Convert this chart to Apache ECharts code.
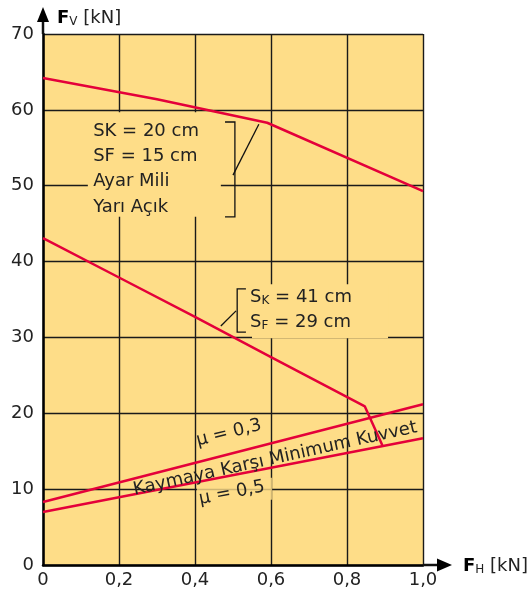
<!DOCTYPE html>
<html>
<head>
<meta charset="utf-8">
<title>FV - FH</title>
<script src="https://cdn.jsdelivr.net/npm/echarts@6/dist/echarts.min.js"></script>
<style>
  html, body { margin: 0; padding: 0; background: #fff; }
  #chart { width: 528px; height: 595px; }
</style>
</head>
<body>
<div id="chart"></div>
<script>
// tick values
const xTicks = [0, 0.2, 0.4, 0.6, 0.8, 1.0];
const yTicks = [0, 10, 20, 30, 40, 50, 60, 70];

// SK = 20 cm / SF = 15 cm curve
const sk20X = [0, 0.3, 0.59, 1.0];
const sk20Y = [64.2, 61.4, 58.3, 49.3];

// SK = 41 cm / SF = 29 cm curve
const sk41X = [0, 0.2, 0.4, 0.6, 0.847, 0.893];
const sk41Y = [43.1, 37.9, 32.7, 27.4, 20.9, 15.8];

// minimum force against sliding
const mu03X = [0, 1.0];
const mu03Y = [8.3, 21.2];
const mu05X = [0, 1.0];
const mu05Y = [7.0, 16.7];

const font = '"DejaVu Sans", "Liberation Sans", sans-serif';
const ink = '#222';
const red = '#E4003A';
const paper = '#FEDD88';

const pairs = (xs, ys) => xs.map((x, i) => [x, ys[i]]);

const chart = echarts.init(document.getElementById('chart'));

const lineSeries = (data) => ({
  type: 'line',
  data: data,
  symbol: 'none',
  silent: true,
  z: 3,
  lineStyle: { color: red, width: 2.5 },
});

chart.setOption({
  animation: false,
  grid: {
    left: 43, right: 105, top: 34, bottom: 30,
    show: true,
    backgroundColor: paper,
    borderWidth: 0,
  },
  xAxis: {
    type: 'value',
    min: 0, max: 1, interval: 0.2,
    axisLine: { lineStyle: { color: '#000', width: 2.5 } },
    axisTick: { show: false },
    splitLine: { show: true, lineStyle: { color: '#1a1a1a', width: 1.4 } },
    axisLabel: {
      fontSize: 18, color: ink, fontFamily: font, margin: 6,
      formatter: v => v === 0 ? '0' : v.toFixed(1).replace('.', ','),
    },
  },
  yAxis: {
    type: 'value',
    min: 0, max: 70, interval: 10,
    axisLine: { show: true, lineStyle: { color: '#000', width: 2.5 } },
    axisTick: { show: false },
    splitLine: { show: true, lineStyle: { color: '#1a1a1a', width: 1.4 } },
    axisLabel: { fontSize: 18, color: ink, fontFamily: font, margin: 9 },
  },
  series: [
    lineSeries(pairs(sk20X, sk20Y)),
    lineSeries(pairs(sk41X, sk41Y)),
    lineSeries(pairs(mu03X, mu03Y)),
    lineSeries(pairs(mu05X, mu05Y)),
  ],
});

// annotations, placed in data coordinates
const P = (x, y) => chart.convertToPixel({ gridIndex: 0 }, [x, y]);

const box = (x0, y0, x1, y1, opacity) => {
  const a = P(x0, y0), b = P(x1, y1);
  return {
    type: 'rect', z: 1, silent: true,
    shape: { x: a[0], y: a[1], width: b[0] - a[0], height: b[1] - a[1] },
    style: { fill: paper, opacity: opacity == null ? 1 : opacity },
  };
};

const seg = (pts, w) => ({
  type: 'polyline', z: 6, silent: true,
  shape: { points: pts },
  style: { stroke: '#111', lineWidth: w || 1.3, fill: null },
});

const label = (x, y, text) => {
  const p = P(x, y);
  return {
    type: 'text', z: 7, silent: true,
    x: p[0], y: p[1],
    style: {
      text: text, fill: ink, font: '18px ' + font,
      textAlign: 'left', textVerticalAlign: 'middle',
    },
  };
};

const rot = (x, y, text, deg) => {
  const p = P(x, y);
  return {
    type: 'text', z: 7, silent: true,
    x: p[0], y: p[1], rotation: deg * Math.PI / 180,
    style: {
      text: text, fill: ink, font: '18px ' + font,
      textAlign: 'center', textVerticalAlign: 'middle',
    },
  };
};

const subRich = {
  b: { fontSize: 18, fontWeight: 'bold', fontFamily: font, fill: '#000', lineHeight: 22 },
  m: { fontSize: 18, fontFamily: font, fill: ink, lineHeight: 22 },
  s: { fontSize: 12, fontFamily: font, fill: ink, lineHeight: 22, padding: [8, 0, 0, 0] },
};

const subText = (px, py, text) => ({
  type: 'text', z: 7, silent: true,
  x: px, y: py,
  style: { text: text, textAlign: 'left', textVerticalAlign: 'middle', rich: subRich },
});

const origin = P(0, 0), yEnd = P(0, 70), xEnd = P(1, 0);
const b1x = P(0.505, 0)[0], b1t = P(0.479, 0)[0];
const b1a = P(0, 58.4)[1], b1b = P(0, 45.9)[1];
const b2x = P(0.511, 0)[0], b2t = P(0.534, 0)[0];
const b2a = P(0, 36.4)[1], b2b = P(0, 30.7)[1];
const t1 = P(0.545, 35.3), t2 = P(0.545, 32.0);

chart.setOption({
  graphic: [
    // axis arrows
    seg([[yEnd[0], yEnd[1]], [yEnd[0], yEnd[1] - 14]], 2.5),
    { type: 'polygon', z: 6, silent: true,
      shape: { points: [[yEnd[0] - 6, yEnd[1] - 12], [yEnd[0] + 6, yEnd[1] - 12], [yEnd[0], yEnd[1] - 27]] },
      style: { fill: '#000' } },
    seg([[xEnd[0], xEnd[1]], [xEnd[0] + 16, xEnd[1]]], 2.5),
    { type: 'polygon', z: 6, silent: true,
      shape: { points: [[xEnd[0] + 14, xEnd[1] - 6.5], [xEnd[0] + 14, xEnd[1] + 6.5], [xEnd[0] + 29, xEnd[1]]] },
      style: { fill: '#000' } },
    // axis names
    subText(yEnd[0] + 14, yEnd[1] - 16, '{b|F}{s|V}{m| [kN]}'),
    subText(xEnd[0] + 40, xEnd[1] + 1, '{b|F}{s|H}{m| [kN]}'),

    // SK = 20 cm block
    box(0.118, 59.7, 0.468, 45.9),
    label(0.132, 57.2, 'SK = 20 cm'),
    label(0.132, 53.9, 'SF = 15 cm'),
    label(0.132, 50.6, 'Ayar Mili'),
    label(0.132, 47.2, 'Yarı Açık'),
    seg([[b1t, b1a], [b1x, b1a], [b1x, b1b], [b1t, b1b]]),
    seg([P(0.5, 51.4), P(0.568, 58.1)]),

    // SK = 41 cm block
    box(0.55, 37.0, 0.908, 29.9),
    subText(t1[0], t1[1], '{m|S}{s|K}{m| = 41 cm}'),
    subText(t2[0], t2[1], '{m|S}{s|F}{m| = 29 cm}'),
    seg([[b2t, b2a], [b2x, b2a], [b2x, b2b], [b2t, b2b]]),
    seg([P(0.508, 33.5), P(0.468, 31.5)]),

    // friction labels
    box(0.405, 11.5, 0.603, 8.6, 0.8),
    rot(0.489, 17.4, 'μ = 0,3', 14),
    rot(0.611, 14.0, 'Kaymaya Karşı Minimum Kuvvet', 12.5),
    rot(0.497, 9.5, 'μ = 0,5', 11),
  ],
});
</script>
</body>
</html>
